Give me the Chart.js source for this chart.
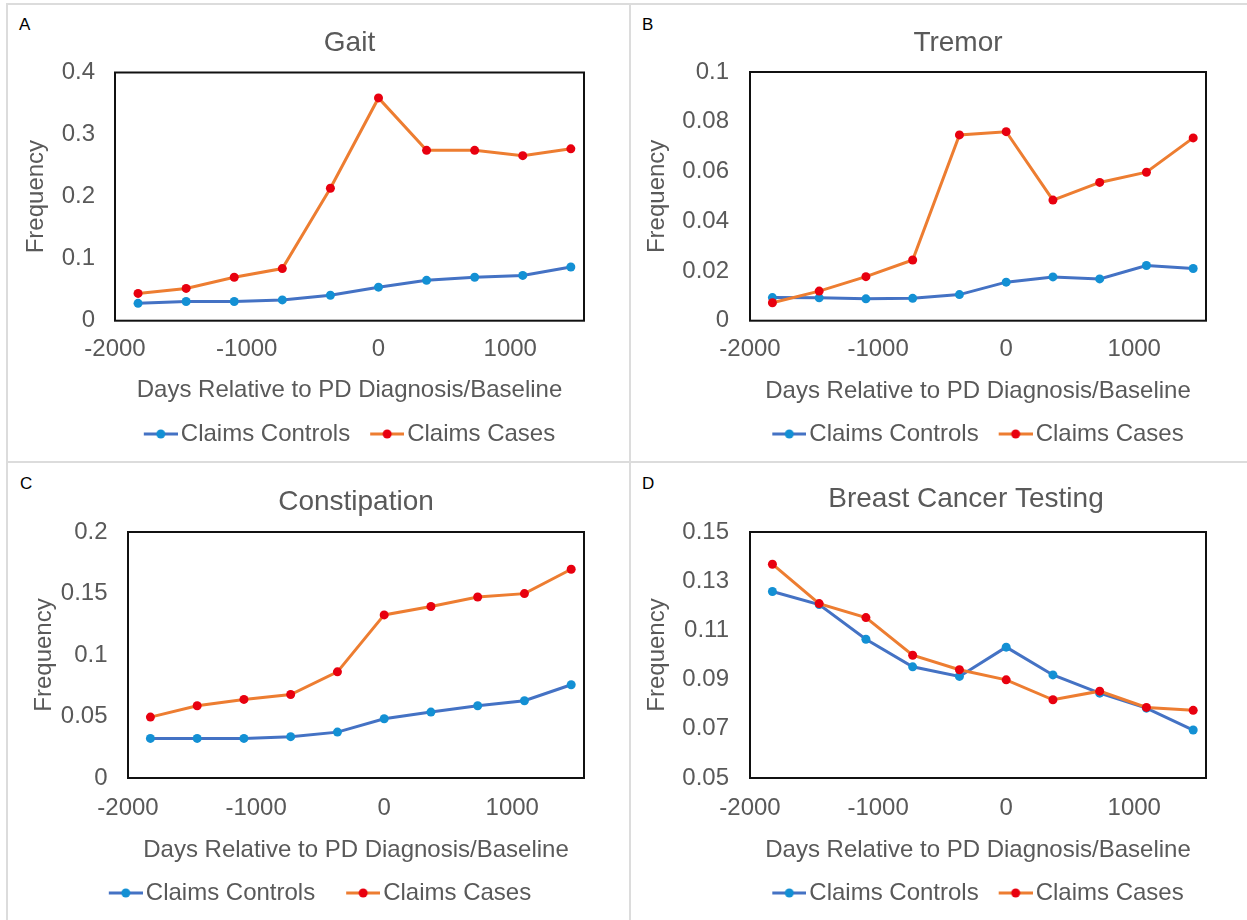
<!DOCTYPE html>
<html>
<head>
<meta charset="utf-8">
<title>Claims frequency by days relative to PD diagnosis</title>
<script src="https://cdn.jsdelivr.net/npm/chart.js@4.4.1/dist/chart.umd.min.js"></script>
<style>
  html, body { margin: 0; padding: 0; background: #fff; overflow: hidden; }
  body { width: 1247px; height: 920px; position: relative; font-family: 'Liberation Sans', Arial, sans-serif; }
  .panel { position: absolute; box-sizing: border-box; border-top: 2px solid #dcdcdc; border-left: 2px solid #dcdcdc; }
  .letter { position: absolute; font-size: 17px; line-height: 17px; color: #000; }
  canvas { position: absolute; }
</style>
</head>
<body>
<div class="panel" style="left:6px;top:3px;width:623px;height:458px"></div>
<div class="panel" style="left:629px;top:3px;width:618px;height:458px"></div>
<div class="panel" style="left:6px;top:461px;width:623px;height:459px"></div>
<div class="panel" style="left:629px;top:461px;width:618px;height:459px"></div>

<div class="letter" style="left:19px;top:16px">A</div>
<div class="letter" style="left:642px;top:16px">B</div>
<div class="letter" style="left:20px;top:475px">C</div>
<div class="letter" style="left:642px;top:475px">D</div>

<canvas id="chartA" width="621" height="456" style="left:8px;top:5px"></canvas>
<canvas id="chartB" width="616" height="456" style="left:631px;top:5px"></canvas>
<canvas id="chartC" width="621" height="457" style="left:8px;top:463px"></canvas>
<canvas id="chartD" width="616" height="457" style="left:631px;top:463px"></canvas>

<script>
// days relative to diagnosis / baseline, one point per year
const days = [-1825, -1460, -1095, -730, -365, 0, 365, 730, 1095, 1460];
const dayTicks = [-2000, -1000, 0, 1000];

const gaitControls = [0.028, 0.031, 0.031, 0.0335, 0.041, 0.054, 0.065, 0.070, 0.073, 0.0865];
const gaitCases = [0.044, 0.052, 0.070, 0.084, 0.2135, 0.359, 0.2745, 0.2745, 0.266, 0.277];
const gaitTicks = [0, 0.1, 0.2, 0.3, 0.4];

const tremorControls = [0.0093, 0.0092, 0.0088, 0.0090, 0.0105, 0.0155, 0.0176, 0.0168, 0.0222, 0.0210];
const tremorCases = [0.0072, 0.0119, 0.0177, 0.0244, 0.0747, 0.0760, 0.0485, 0.0556, 0.0597, 0.0735];
const tremorTicks = [0, 0.02, 0.04, 0.06, 0.08, 0.1];

const constipationControls = [0.0322, 0.0322, 0.0322, 0.0336, 0.0373, 0.0482, 0.0536, 0.0587, 0.0628, 0.0758];
const constipationCases = [0.0495, 0.0587, 0.0639, 0.0679, 0.0863, 0.1326, 0.1394, 0.1472, 0.1499, 0.1697];
const constipationTicks = [0, 0.05, 0.1, 0.15, 0.2];

const breastControls = [0.1258, 0.1205, 0.1064, 0.0952, 0.0913, 0.1032, 0.0919, 0.0845, 0.0784, 0.0695];
const breastCases = [0.1369, 0.1209, 0.1152, 0.0999, 0.0940, 0.0899, 0.0818, 0.0853, 0.0787, 0.0775];
const breastTicks = [0.05, 0.07, 0.09, 0.11, 0.13, 0.15];

const TEXT = '#595959';
const CONTROL_LINE = '#4472C4', CONTROL_DOT = '#1390D4';
const CASE_LINE = '#ED7D31', CASE_DOT = '#E8000F';

Chart.defaults.font.family = "'Liberation Sans', Arial, Helvetica, sans-serif";
Chart.defaults.color = TEXT;

// black box round the plot area
const plotFrame = {
    id: 'plotFrame',
    beforeDatasetsDraw(chart) {
        const {ctx, chartArea: a} = chart;
        ctx.save();
        ctx.strokeStyle = '#111';
        ctx.lineWidth = 2;
        ctx.strokeRect(a.left, a.top, a.width, a.height);
        ctx.restore();
    }
};

// legend symbol: short line with a dot, left part transparent so the text sits close
function legendIcon(lineColor, dotColor) {
    const c = document.createElement('canvas');
    c.width = 43;
    c.height = 12;
    const g = c.getContext('2d');
    g.strokeStyle = lineColor;
    g.lineWidth = 3;
    g.beginPath();
    g.moveTo(9, 6);
    g.lineTo(43, 6);
    g.stroke();
    g.fillStyle = dotColor;
    g.beginPath();
    g.arc(26, 6, 4.5, 0, Math.PI * 2);
    g.fill();
    return c;
}

const fmt = v => String(+Number(v).toFixed(4));

function toPoints(values) {
    return days.map((d, i) => ({x: d, y: values[i]}));
}

function makePanel(p) {
    // right layout padding shifts the centre of a full width title / legend
    let pr = 0;
    if (p.titleX != null) pr = p.W - 2 * p.titleX;
    else if (p.legendX != null) pr = p.W - 2 * p.legendX;

    const legendH = 24 + p.legendGap + 10;
    const padB = p.H - 22 - p.legendY;
    const xH = p.H - padB - legendH - p.plotB;

    return new Chart(p.id, {
        type: 'line',
        data: {
            datasets: [{
                label: 'Claims Controls',
                data: toPoints(p.controls),
                borderColor: CONTROL_LINE,
                backgroundColor: CONTROL_DOT,
                pointBackgroundColor: CONTROL_DOT,
                pointBorderColor: CONTROL_DOT,
                borderWidth: 3,
                pointRadius: 4.5,
                pointBorderWidth: 0,
                tension: 0,
                order: 1,
                icon: legendIcon(CONTROL_LINE, CONTROL_DOT)
            }, {
                label: 'Claims Cases',
                data: toPoints(p.cases),
                borderColor: CASE_LINE,
                backgroundColor: CASE_DOT,
                pointBackgroundColor: CASE_DOT,
                pointBorderColor: CASE_DOT,
                borderWidth: 3,
                pointRadius: 4.5,
                pointBorderWidth: 0,
                tension: 0,
                order: 0,
                icon: legendIcon(CASE_LINE, CASE_DOT)
            }]
        },
        options: {
            responsive: false,
            animation: false,
            devicePixelRatio: 1,
            layout: {padding: {left: 0, top: 0, right: pr, bottom: padB}},
            scales: {
                x: {
                    type: 'linear',
                    min: -2000,
                    max: 1560,
                    grid: {display: false, drawTicks: false},
                    border: {display: false},
                    afterBuildTicks: s => { s.ticks = dayTicks.map(v => ({value: v})); },
                    afterFit: s => { s.height = xH; },
                    ticks: {
                        color: TEXT,
                        font: {size: 24},
                        padding: p.xTickY - p.plotB - 14.4,
                        maxRotation: 0,
                        autoSkip: false,
                        callback: v => String(v)
                    },
                    title: {
                        display: true,
                        text: 'Days Relative to PD Diagnosis/Baseline',
                        color: TEXT,
                        font: {size: 24},
                        padding: {top: 0, bottom: p.plotB + xH - 12 - p.xTitleY}
                    }
                },
                y: {
                    min: p.ticks[0],
                    max: p.ticks[p.ticks.length - 1],
                    grid: {display: false, drawTicks: false},
                    border: {display: false},
                    afterBuildTicks: s => { s.ticks = p.ticks.map(v => ({value: v})); },
                    afterFit: s => { s.width = p.plotL; },
                    ticks: {
                        color: TEXT,
                        font: {size: 24},
                        padding: p.plotL - p.yTickR,
                        autoSkip: false,
                        callback: fmt
                    },
                    title: {
                        display: true,
                        text: 'Frequency',
                        color: TEXT,
                        font: {size: 24},
                        padding: {top: p.yTitleX - 12, bottom: 0}
                    }
                },
                yR: {
                    position: 'right',
                    display: true,
                    grid: {display: false, drawTicks: false},
                    border: {display: false},
                    ticks: {display: false},
                    afterFit: s => { s.width = Math.max(0, p.W - pr - p.plotR); }
                }
            },
            plugins: {
                title: {
                    display: true,
                    text: p.title,
                    color: TEXT,
                    fullSize: p.titleX != null,
                    font: {size: 28, weight: 'normal'},
                    padding: {top: p.titleY - 16.8, bottom: p.plotT - p.titleY - 16.8}
                },
                legend: {
                    position: 'bottom',
                    fullSize: p.legendX != null,
                    labels: {
                        usePointStyle: true,
                        pointStyleWidth: 25,
                        padding: p.legendGap,
                        color: TEXT,
                        font: {size: 24},
                        sort: (a, b) => a.datasetIndex - b.datasetIndex,
                        generateLabels(chart) {
                            const items = Chart.defaults.plugins.legend.labels.generateLabels(chart);
                            items.forEach(it => {
                                it.pointStyle = chart.data.datasets[it.datasetIndex].icon;
                                it.fontColor = TEXT;
                            });
                            return items;
                        }
                    }
                },
                tooltip: {enabled: false}
            }
        },
        plugins: [plotFrame]
    });
}

makePanel({
    id: 'chartA', title: 'Gait', controls: gaitControls, cases: gaitCases, ticks: gaitTicks,
    W: 621, H: 456, plotL: 107, plotR: 576, plotT: 67.5, plotB: 315.7,
    titleY: 38, titleX: null, legendX: null, legendY: 429, legendGap: 20,
    xTickY: 344.5, xTitleY: 388, yTickR: 87, yTitleX: 25.6
});

makePanel({
    id: 'chartB', title: 'Tremor', controls: tremorControls, cases: tremorCases, ticks: tremorTicks,
    W: 616, H: 456, plotL: 119, plotR: 575, plotT: 67, plotB: 315.7,
    titleY: 38.3, titleX: 327, legendX: null, legendY: 429, legendGap: 20,
    xTickY: 344.3, xTitleY: 388.3, yTickR: 98, yTitleX: 24
});

makePanel({
    id: 'chartC', title: 'Constipation', controls: constipationControls, cases: constipationCases, ticks: constipationTicks,
    W: 621, H: 457, plotL: 120, plotR: 576, plotT: 69, plotB: 315,
    titleY: 39.7, titleX: null, legendX: 312, legendY: 430, legendGap: 31,
    xTickY: 345.3, xTitleY: 390, yTickR: 99.5, yTitleX: 33.5
});

makePanel({
    id: 'chartD', title: 'Breast Cancer Testing', controls: breastControls, cases: breastCases, ticks: breastTicks,
    W: 616, H: 457, plotL: 119, plotR: 575, plotT: 69, plotB: 315,
    titleY: 36.3, titleX: 335, legendX: null, legendY: 430, legendGap: 20,
    xTickY: 345.3, xTitleY: 389.7, yTickR: 98, yTitleX: 24
});
</script>
</body>
</html>
